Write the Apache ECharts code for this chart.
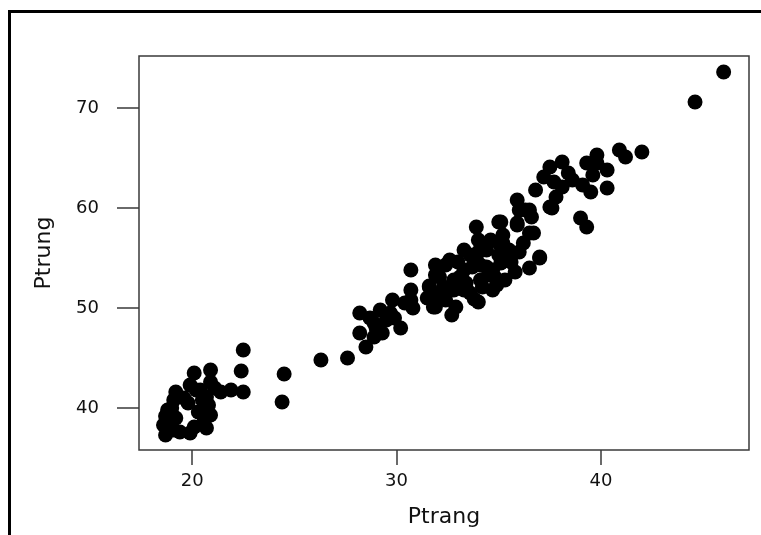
<!DOCTYPE html>
<html>
<head>
<meta charset="utf-8">
<script src="https://cdn.jsdelivr.net/npm/echarts@6/dist/echarts.min.js"></script>
<style>
  html, body { margin: 0; padding: 0; background: #fff; }
  #chart { width: 761px; height: 535px; }
</style>
</head>
<body>
<div id="chart"></div>
<script>
  // tick labels
  var xTicks = [20, 30, 40]
  var yTicks = [40, 50, 60, 70]

  // Ptrang values (x)
  var ptrang = [
    // low cluster
    22.5, 22.4, 22.5, 21.9, 21.4, 20.9, 20.1, 20.9, 19.9, 19.2,
    19.1, 18.8, 18.8, 18.6, 18.7, 19.4, 20.1, 20.6, 20.3, 19.8,
    20.5, 20.7, 24.5, 24.4, 18.9, 19.2, 19.0, 19.6, 20.4, 21.1,
    19.9, 20.7, 20.9, 18.7, 19.1, 20.8, 20.2,
    // middle
    26.3, 27.6, 28.5, 28.2, 28.2, 29.2, 29.8, 30.7, 30.7, 30.2,
    29.5, 28.9, 28.9, 29.3, 30.8, 29.7, 28.7, 29.0, 29.9, 30.7,
    30.4,
    // dense group
    31.8, 31.8, 31.6, 33.9, 35.0, 31.9, 31.9, 31.6, 31.5, 31.9,
    32.9, 32.7, 32.6, 33.3, 34.0, 34.0, 34.7, 35.0, 35.5, 36.0,
    36.5, 37.0, 35.8, 32.8, 32.3, 33.4, 34.1, 34.4, 33.7, 33.1,
    34.8, 35.1, 35.4, 36.0, 36.5, 35.9, 37.5, 36.6, 34.4, 34.6,
    33.9, 32.1, 33.3, 34.2, 32.4, 33.6, 32.0, 35.2, 33.6, 34.7,
    35.3, 34.1, 33.3, 32.8, 35.0, 34.3, 32.4, 33.0, 34.5, 35.6,
    33.0, 34.0, 35.2, 36.2, 32.2, 33.8, 34.9,
    // upper group
    42.0, 40.9, 41.2, 39.8, 40.3, 40.3, 39.5, 39.1, 39.3, 39.8,
    39.6, 39.0, 39.3, 38.1, 37.5, 37.2, 36.8, 37.6, 37.8, 38.4,
    37.7, 38.6, 38.1, 36.5, 36.7, 35.9, 36.3, 35.1, 35.9, 37.0,
    // top
    46.0, 44.6
  ]

  // Ptrung values (y), same order
  var ptrung = [
    45.8, 43.7, 41.6, 41.8, 41.6, 43.8, 43.5, 42.6, 42.3, 41.6,
    40.8, 39.8, 38.8, 38.3, 37.3, 37.6, 38.1, 38.8, 39.6, 40.5,
    40.8, 41.1, 43.4, 40.6, 38.0, 39.0, 40.0, 41.0, 41.8, 42.0,
    37.5, 38.0, 39.3, 39.2, 37.8, 40.3, 41.8,
    44.8, 45.0, 46.1, 47.5, 49.5, 49.8, 50.8, 51.8, 53.8, 48.0,
    48.8, 48.5, 47.1, 47.5, 50.0, 49.5, 49.0, 48.0, 49.0, 50.8,
    50.5,
    50.8, 50.1, 52.2, 58.1, 58.6, 54.3, 53.3, 52.1, 51.0, 50.1,
    50.1, 49.3, 54.8, 55.8, 56.8, 50.6, 51.8, 56.5, 55.8, 55.6,
    54.0, 55.0, 53.6, 51.8, 52.1, 52.5, 52.8, 54.1, 54.1, 53.1,
    53.1, 54.5, 55.1, 59.8, 57.5, 58.3, 60.1, 59.1, 55.8, 56.8,
    54.8, 53.1, 53.8, 52.1, 50.8, 51.5, 51.1, 56.5, 55.3, 53.8,
    52.8, 54.3, 51.8, 52.8, 55.3, 56.1, 54.3, 54.6, 53.3, 54.6,
    52.3, 55.6, 57.3, 56.5, 51.6, 50.9, 52.3,
    65.6, 65.8, 65.1, 65.3, 63.8, 62.0, 61.6, 62.3, 64.5, 64.5,
    63.3, 59.0, 58.1, 64.6, 64.1, 63.1, 61.8, 60.0, 61.1, 63.5,
    62.6, 62.8, 62.1, 59.8, 57.5, 60.8, 59.8, 58.6, 58.5, 55.1,
    73.6, 70.6
  ]

  var points = ptrang.map(function (x, i) {
    return [x, ptrung[i]]
  })

  var font = 'DejaVu Sans'
  var axisColor = '#3a3a3a'

  var chart = echarts.init(document.getElementById('chart'))
  chart.setOption({
    backgroundColor: '#fff',
    animation: false,
    graphic: [{
      // outer frame, cut off at right and bottom
      type: 'rect',
      shape: { x: 9.5, y: 11.5, width: 900, height: 700 },
      style: { fill: 'none', stroke: '#000', lineWidth: 3 },
      silent: true
    }],
    grid: {
      left: 139,
      top: 56,
      right: 12,
      bottom: 85,
      show: true,
      borderColor: axisColor,
      borderWidth: 1.5,
      backgroundColor: '#fff'
    },
    xAxis: {
      type: 'value',
      min: 17.4,
      max: 47.24,
      name: 'Ptrang',
      nameLocation: 'middle',
      nameGap: 56,
      nameTextStyle: { fontFamily: font, fontSize: 22, color: '#111' },
      splitLine: { show: false },
      axisLine: { show: false },
      axisTick: {
        show: true,
        length: 15,
        customValues: xTicks,
        lineStyle: { color: axisColor, width: 1.5 }
      },
      axisLabel: {
        customValues: xTicks,
        margin: 22,
        fontFamily: font,
        fontSize: 18,
        color: '#111'
      }
    },
    yAxis: {
      type: 'value',
      min: 35.8,
      max: 75.2,
      name: 'Ptrung',
      nameLocation: 'middle',
      nameGap: 84,
      nameTextStyle: { fontFamily: font, fontSize: 22, color: '#111' },
      splitLine: { show: false },
      axisLine: { show: false },
      axisTick: {
        show: true,
        length: 22,
        customValues: yTicks,
        lineStyle: { color: axisColor, width: 1.5 }
      },
      axisLabel: {
        customValues: yTicks,
        margin: 40,
        fontFamily: font,
        fontSize: 18,
        color: '#111'
      }
    },
    series: [{
      type: 'scatter',
      data: points,
      symbol: 'circle',
      symbolSize: 15,
      itemStyle: { color: '#000', opacity: 1 }
    }]
  })
</script>
</body>
</html>
